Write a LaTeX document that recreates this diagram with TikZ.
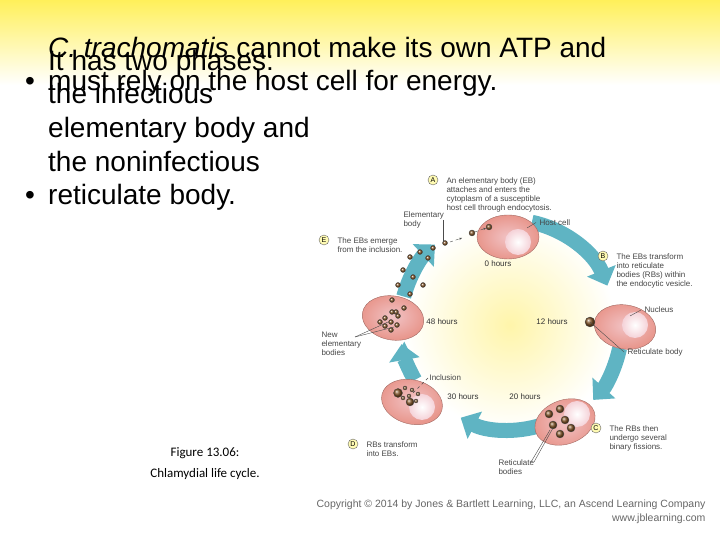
\documentclass[tikz,border=0pt]{standalone}
\usepackage{fontspec}
\setmainfont{Liberation Sans}
\newfontfamily\capfont{Carlito}
\usetikzlibrary{arrows.meta,shapes.geometric}
\definecolor{teal}{RGB}{95,180,195}
\definecolor{cellc}{RGB}{232,150,140}
\definecolor{nucc}{RGB}{248,225,235}
\definecolor{bodyc}{RGB}{130,85,40}
\definecolor{lbl}{RGB}{70,70,70}
\tikzset{
 ring/.style={draw=teal,line width=15pt,-{Triangle[width=30pt,length=16pt]}},
 cell/.style={ellipse,draw=cellc!70!black,line width=0.4pt,inner color=nucc!60!cellc,outer color=cellc,minimum width=62pt,minimum height=44pt},
 nuc/.style={circle,inner color=white,outer color=nucc!80!cellc,minimum size=26pt},
 eb/.style={circle,draw=black!70,line width=0.3pt,ball color=bodyc,minimum size=#1,inner sep=0pt},
 small/.style={font=\fontsize{8}{9}\selectfont,text=lbl,align=left},
 tag/.style={circle,draw=black!60,fill=yellow!30,font=\fontsize{7}{7}\selectfont,inner sep=1pt,minimum size=10pt},
 big/.style={font=\fontsize{28}{33.7}\selectfont,align=left,anchor=base west,inner sep=0pt},
 lead/.style={draw=black!70,line width=0.4pt}
}
\begin{document}
\begin{tikzpicture}[x=1pt,y=1pt]
\useasboundingbox (0,0) rectangle (720,540);
\shade[top color={rgb,255:red,255;green,240;blue,90},bottom color=white] (0,540) rectangle (720,455);
% glow
\shade[inner color={rgb,255:red,255;green,245;blue,170},outer color=white] (510,215) circle (105);
% bullets
\node[big] (p1) at (25,540-91) {\textbullet};
\node[big] (b1) at (48,540-91) {\textit{C. trachomatis} cannot make its own ATP and\\must rely on the host cell for energy.};
\node[big] (p2) at (25,540-205) {\textbullet};
\node[big] (b2) at (48,540-205) {It has two phases:\\the infectious\\elementary body and\\the noninfectious\\reticulate body.};
\node[font=\capfont\fontsize{13}{21}\selectfont,align=center] (cap) at (205,76) {Figure 13.06:\\Chlamydial life cycle.};
% ring arrows
\coordinate (c) at (510,215);
\draw[ring] (c) ++(78:105) arc[start angle=78,end angle=22,radius=105];
\draw[ring] (c) ++(-12:112) arc[start angle=-12,end angle=-42,radius=112];
\draw[ring] (c) ++(-72:105) arc[start angle=-72,end angle=-118,radius=105];
\draw[ring] (c) ++(-150:110) arc[start angle=-150,end angle=-170,radius=110];
\draw[ring] (c) ++(165:110) arc[start angle=165,end angle=133,radius=110];
% cells
\node[cell] (ca) at (508,303) {}; \node[nuc] (na) at (518,298) {};
\node[cell,rotate=-10] (cb) at (625,213) {}; \node[nuc] (nb) at (635,215) {};
\node[cell,rotate=20] (cc) at (565,118) {}; \node[nuc] (nc) at (577,126) {};
\node[cell,rotate=-15] (cd) at (412,138) {}; \node[nuc] (nd) at (422,133) {};
\node[cell,rotate=-10] (ce) at (393,222) {};
% bodies
\node[eb=6pt] (e1) at (472,307) {}; \node[eb=6pt] (e2) at (489,313) {};
\draw[lead,dashed,-{Stealth[length=3pt]}] (e1) -- (e2);
\foreach \p [count=\i] in {(445,297),(433,292),(420,288),(428,282),(410,283),(403,270),(413,263),(423,255),(398,255),(410,246),(392,240),(404,232),(396,228)} \node[eb=5pt] (ee\i) at \p {};
\draw[lead,dashed,-{Stealth[length=3pt]}] (450,298) -- (462,302);
\foreach \p [count=\i] in {(385,222),(391,218),(397,215),(385,214),(391,210),(398,224),(380,218),(392,228)} \node[eb=5pt] (en\i) at \p {};
\node[eb=10pt] (rb) at (590,218) {};
\foreach \p [count=\i] in {(549,126),(560,131),(553,115),(565,120),(560,106),(571,112)} \node[eb=8pt] (rc\i) at \p {};
\node[eb=9pt] (rd1) at (398,147) {}; \node[eb=8pt] (rd2) at (410,138) {};
\foreach \p [count=\i] in {(405,152),(412,150),(418,146),(409,144),(416,139),(403,142)} \node[eb=4pt] (rs\i) at \p {};
% hours
\node[small,text=black!80] (h0) at (498,276) {0 hours};
\node[small,text=black!80] (h12) at (552,218) {12 hours};
\node[small,text=black!80] (h48) at (442,218) {48 hours};
\node[small,text=black!80] (h30) at (463,143) {30 hours};
\node[small,text=black!80] (h20) at (525,143) {20 hours};
% tags and descriptions
\node[tag] (ta) at (433,360) {A};
\node[small,anchor=north west] (da) at (443,366) {An elementary body (EB)\\attaches and enters the\\cytoplasm of a susceptible\\host cell through endocytosis.};
\node[tag] (tb) at (603,284) {B};
\node[small,anchor=north west] (db) at (613,290) {The EBs transform\\into reticulate\\bodies (RBs) within\\the endocytic vesicle.};
\node[tag] (tc) at (596,112) {C};
\node[small,anchor=north west] (dc) at (606,118) {The RBs then\\undergo several\\binary fissions.};
\node[tag] (td) at (353,96) {D};
\node[small,anchor=north west] (dd) at (363,102) {RBs transform\\into EBs.};
\node[tag] (te) at (324,300) {E};
\node[small,anchor=north west] (de) at (334,306) {The EBs emerge\\from the inclusion.};
% labels
\node[small,anchor=south west] (lhc) at (536,311) {Host cell};
\draw[lead] (lhc.west) -- (527,312);
\node[small,anchor=south west] (leb) at (400,308) {Elementary\\body};
\draw[lead] (443,320) -- (443,298);
\node[small,anchor=west] (lnu) at (641,230) {Nucleus};
\draw[lead] (lnu.west) -- (630,224);
\node[small,anchor=west] (lrb) at (624,188) {Reticulate body};
\draw[lead] (lrb.west) -- (590,218);
\node[small,anchor=north west] (lne) at (318,212) {New\\elementary\\bodies};
\draw[lead] (355,203) -- (388,218); \draw[lead] (355,203) -- (394,213);
\node[small,anchor=west] (lin) at (426,162) {Inclusion};
\draw[lead,dashed] (428,162) -- (412,146);
\node[small,anchor=north west] (lrbs) at (495,84) {Reticulate\\bodies};
\draw[lead] (534,78) -- (553,112); \draw[lead] (531,78) -- (550,110);
% copyright
\node[font=\fontsize{10.5}{13}\selectfont,text=black!60,anchor=east] (cp) at (709,35) {Copyright \textcopyright\ 2014 by Jones \& Bartlett Learning, LLC, an Ascend Learning Company};
\node[font=\fontsize{10.5}{13}\selectfont,text=black!60,anchor=east] (url) at (709,21) {www.jblearning.com};
\end{tikzpicture}
\end{document}
